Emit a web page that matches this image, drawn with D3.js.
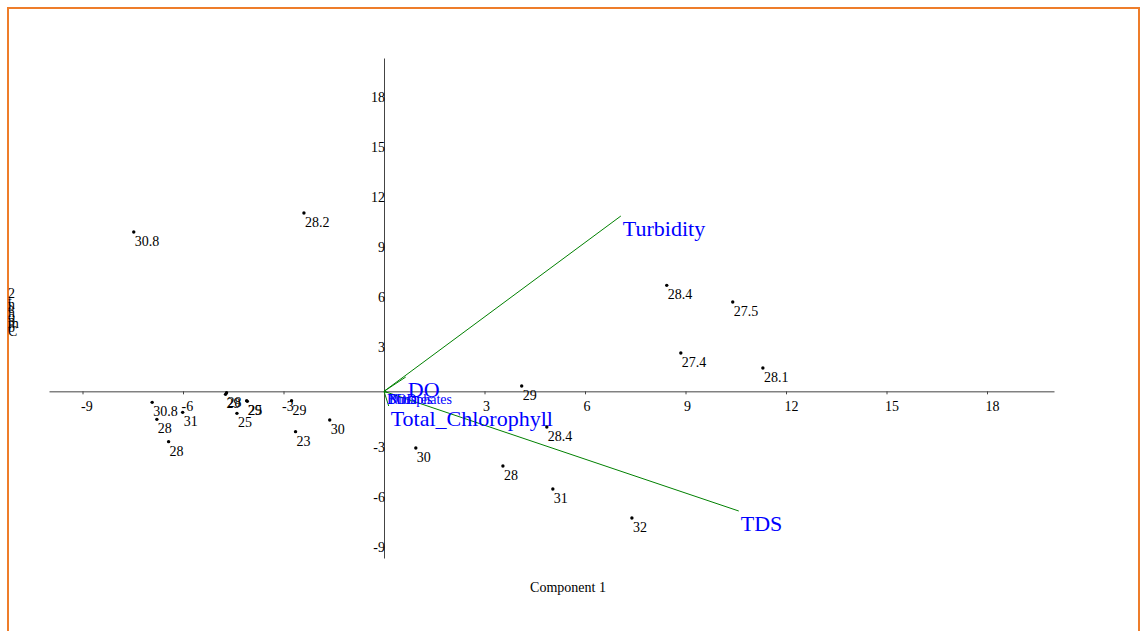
<!DOCTYPE html>
<html>
<head>
<meta charset="utf-8">
<script src="https://cdn.jsdelivr.net/npm/d3@7"></script>
<style>
  html, body { margin: 0; padding: 0; background: #fff; }
  svg { display: block; font-family: "Liberation Serif", "DejaVu Serif", serif; }
</style>
</head>
<body>
<svg id="svg"></svg>
<script>
let width = 1144, height = 631;

// scores (component 1, component 2) and their labels
let scoreX = [-7.47, -2.39, 8.44, 10.41, 8.86, 11.31, 4.11, 4.86, 0.95, 3.55, 5.04, 7.40,
              -6.92, -6.78, -6.43, -6.01, -4.70, -4.73, -4.10, -4.08, -4.39, -2.76, -2.64, -1.62];
let scoreY = [9.56, 10.70, 6.36, 5.36, 2.30, 1.40, 0.32, -2.14, -3.40, -4.48, -5.86, -7.60,
              -0.66, -1.68, -3.02, -1.26, -0.08, -0.18, -0.56, -0.60, -1.32, -0.56, -2.42, -1.72];
let scoreLabels = ["30.8", "28.2", "28.4", "27.5", "27.4", "28.1", "29", "28.4", "30", "28", "31", "32",
                   "30.8", "28", "28", "31", "28", "29", "29", "25", "25", "29", "23", "30"];

// loadings
let loadNames = ["Turbidity", "TDS", "DO", "Total_Chlorophyll", "BOD", "Nitrates", "Phosphates"];
let loadX = [7.07, 10.59, 0.65, 0.14, 0.03, 0.06, 0.09];
let loadY = [10.52, -7.18, 0.86, -0.88, -0.05, -0.03, -0.06];
let loadBig = [true, true, true, true, false, false, false];

let tickVals = [-9, -6, -3, 3, 6, 9, 12, 15, 18];

let svg = d3.select("#svg").attr("width", width).attr("height", height);

// frame
svg.append("rect")
    .attr("x", 8).attr("y", 8)
    .attr("width", 1131).attr("height", 640)
    .attr("fill", "none")
    .attr("stroke", "#ee7d2a")
    .attr("stroke-width", 2);

let xScale = d3.scaleLinear().domain([-10, 20]).range([49, 1054]);
let yScale = d3.scaleLinear().domain([-10, 20]).range([558, 58]);

// plain hyphen for negatives, like the original
let fmt = d => String(d);

// x axis through y = 0
let xAxis = svg.append("g")
    .attr("transform", `translate(0, ${yScale(0)})`)
    .call(d3.axisBottom(xScale).tickValues(tickVals).tickSize(3).tickSizeOuter(0).tickFormat(fmt));
xAxis.selectAll("text")
    .attr("x", -2).attr("y", 10).attr("dy", "0.71em")
    .attr("text-anchor", "start")
    .attr("fill", "#000")
    .style("font-size", "14px")
    .style("font-family", "Liberation Serif, serif");

// y axis through x = 0
let yAxis = svg.append("g")
    .attr("transform", `translate(${xScale(0)}, 0)`)
    .call(d3.axisLeft(yScale).tickValues(tickVals).tickSize(0).tickSizeOuter(0).tickFormat(fmt));
yAxis.selectAll("text")
    .attr("x", 1).attr("dy", "0.71em")
    .attr("text-anchor", "end")
    .attr("fill", "#000")
    .style("font-size", "14px")
    .style("font-family", "Liberation Serif, serif");

svg.selectAll(".domain, .tick line").attr("stroke", "#444");

// axis titles
svg.append("text")
    .attr("x", 568).attr("y", 592)
    .attr("text-anchor", "middle")
    .style("font-size", "14px")
    .text("Component 1");

// y title: glyphs stacked upright, last letter on top
let yTitle = "Component 2".split("").reverse();
let yt = svg.append("text").style("font-size", "14px");
yTitle.forEach((ch, i) => {
    yt.append("tspan").attr("x", 8).attr("y", 298 + i * 3.8).text(ch);
});

// loading vectors
let loads = loadNames.map((n, i) => ({ name: n, x: loadX[i], y: loadY[i], big: loadBig[i] }));

svg.append("g").selectAll("line")
    .data(loads)
    .join("line")
    .attr("x1", xScale(0)).attr("y1", yScale(0))
    .attr("x2", d => xScale(d.x)).attr("y2", d => yScale(d.y))
    .attr("stroke", "#008000")
    .attr("stroke-width", 1);

svg.append("g").selectAll("text")
    .data(loads)
    .join("text")
    .attr("x", d => xScale(d.x) + 2)
    .attr("y", d => yScale(d.y) + (d.big ? 20 : 12))
    .attr("fill", "#0000ff")
    .style("font-size", d => d.big ? "22px" : "14px")
    .text(d => d.name);

// score points
let scores = scoreX.map((v, i) => ({ x: v, y: scoreY[i], label: scoreLabels[i] }));

svg.append("g").selectAll("circle")
    .data(scores)
    .join("circle")
    .attr("cx", d => xScale(d.x))
    .attr("cy", d => yScale(d.y))
    .attr("r", 1.7)
    .attr("fill", "#000");

svg.append("g").selectAll("text")
    .data(scores)
    .join("text")
    .attr("x", d => xScale(d.x) + 1)
    .attr("y", d => yScale(d.y) + 14)
    .attr("fill", "#000")
    .style("font-size", "14px")
    .text(d => d.label);
</script>
</body>
</html>
